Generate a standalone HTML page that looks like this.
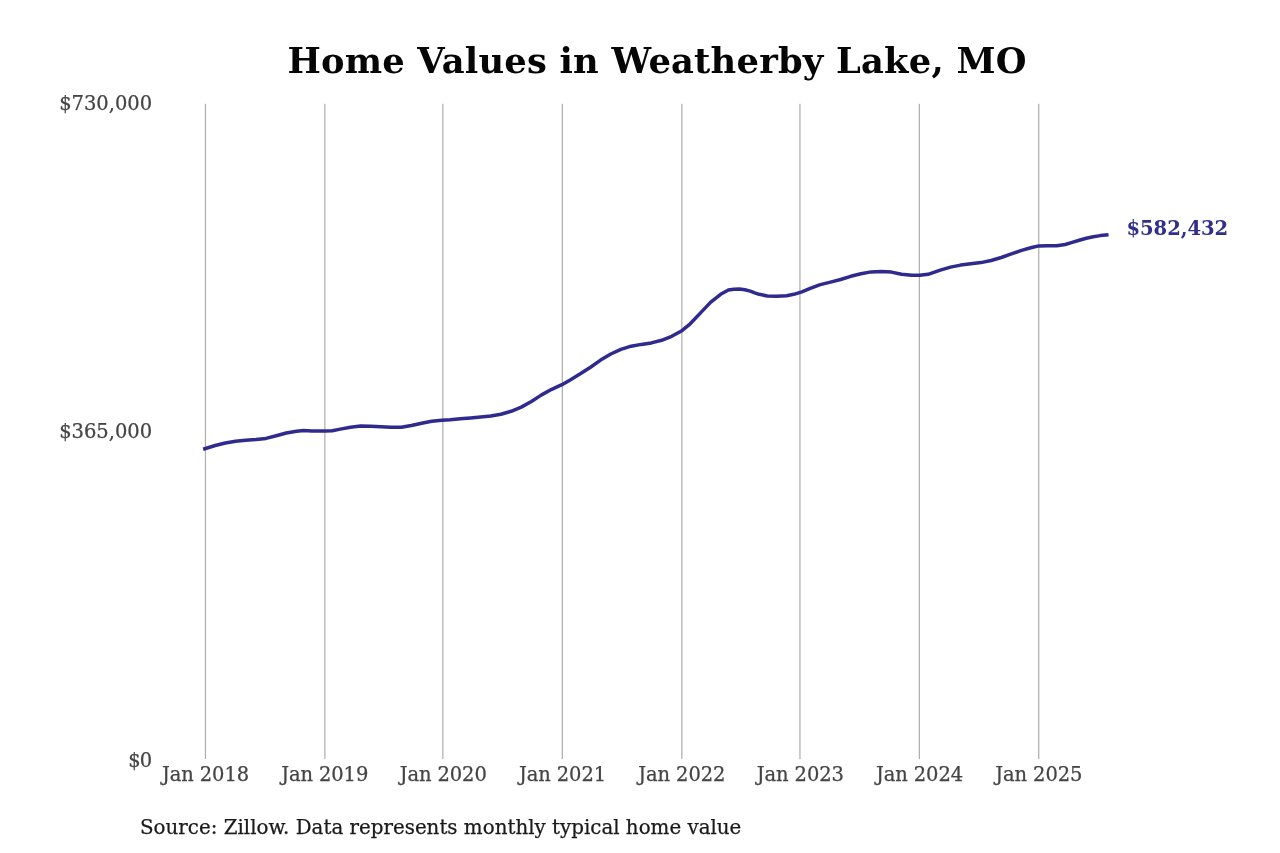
<!DOCTYPE html>
<html lang="en">
<head>
<meta charset="utf-8">
<title>Home Values in Weatherby Lake, MO</title>
<style>
html,body{margin:0;padding:0;background:#fff;}
body{width:1280px;height:853px;overflow:hidden;font-family:"DejaVu Serif","Liberation Serif",serif;}
svg{display:block;}
svg text{font-family:"DejaVu Serif","Liberation Serif",serif;}
.tick{font-size:19.5px;fill:#444;stroke:#444;stroke-width:0.25px;}
.title{font-size:35.3px;font-weight:bold;fill:#050505;letter-spacing:0.2px;}
.val{font-size:19.6px;font-weight:bold;fill:#322f8a;letter-spacing:-0.08px;}
.src{font-size:19.85px;fill:#1a1a1a;stroke:#1a1a1a;stroke-width:0.25px;}
</style>
</head>
<body>
<svg width="1280" height="853" viewBox="0 0 1280 853">
<rect width="1280" height="853" fill="#ffffff"/>
<text class="title" x="657" y="72.5" text-anchor="middle">Home Values in Weatherby Lake, MO</text>
<g>
<rect x="204.85" y="103.8" width="1.2" height="655.3" fill="#adadad"/>
<rect x="324.25" y="103.8" width="1.2" height="655.3" fill="#adadad"/>
<rect x="442.25" y="103.8" width="1.2" height="655.3" fill="#adadad"/>
<rect x="561.75" y="103.8" width="1.2" height="655.3" fill="#adadad"/>
<rect x="681.25" y="103.8" width="1.2" height="655.3" fill="#adadad"/>
<rect x="799.35" y="103.8" width="1.2" height="655.3" fill="#adadad"/>
<rect x="918.75" y="103.8" width="1.2" height="655.3" fill="#adadad"/>
<rect x="1038.15" y="103.8" width="1.2" height="655.3" fill="#adadad"/>
</g>
<g class="tick">
<text x="152.2" y="110.3" text-anchor="end">$730,000</text>
<text x="152.2" y="437.8" text-anchor="end">$365,000</text>
<text x="151.2" y="767.2" text-anchor="end" letter-spacing="-1">$0</text>
<text x="205.5" y="780.9" text-anchor="middle" letter-spacing="-0.1">Jan 2018</text>
<text x="324.7" y="780.9" text-anchor="middle" letter-spacing="-0.1">Jan 2019</text>
<text x="443.2" y="780.9" text-anchor="middle" letter-spacing="-0.1">Jan 2020</text>
<text x="562.5" y="780.9" text-anchor="middle" letter-spacing="-0.1">Jan 2021</text>
<text x="681.8" y="780.9" text-anchor="middle" letter-spacing="-0.1">Jan 2022</text>
<text x="800.3" y="780.9" text-anchor="middle" letter-spacing="-0.1">Jan 2023</text>
<text x="919.5" y="780.9" text-anchor="middle" letter-spacing="-0.1">Jan 2024</text>
<text x="1038.8" y="780.9" text-anchor="middle" letter-spacing="-0.1">Jan 2025</text>
</g>
<path d="M204.8 448.7 L215.2 445.5 L225.4 443.0 L235.5 441.2 L245.7 440.2 L255.9 439.5 L266.0 438.4 L276.2 435.7 L286.3 433.0 L296.5 431.3 L303.6 430.6 L311.7 430.9 L321.9 431.1 L325.1 431.0 L332.2 430.8 L340.3 429.1 L350.5 427.2 L360.6 426.1 L370.8 426.3 L380.9 426.8 L391.1 427.3 L401.3 427.2 L411.4 425.5 L421.6 423.2 L431.7 421.3 L441.9 420.2 L450.2 419.8 L460.3 418.8 L470.5 417.9 L480.6 417.0 L490.8 415.9 L500.9 414.2 L511.1 411.3 L521.3 407.1 L531.4 401.5 L541.6 394.9 L551.7 389.3 L561.9 384.7 L570.2 379.9 L580.3 373.8 L590.5 367.2 L600.6 360.1 L610.8 354.0 L620.9 349.3 L631.1 346.2 L641.3 344.4 L651.4 342.9 L661.6 340.3 L671.7 336.3 L681.9 330.7 L690.2 323.8 L700.3 313.1 L710.5 302.4 L720.6 294.3 L728.4 289.9 L733.9 289.2 L739.4 289.0 L744.8 289.7 L750.3 291.1 L754.7 292.8 L759.2 294.3 L767.3 296.0 L776.5 296.3 L786.6 295.7 L793.8 294.3 L801.9 291.8 L810.2 288.3 L820.3 284.6 L830.5 282.1 L840.6 279.5 L850.8 276.3 L860.9 273.7 L871.1 271.9 L881.3 271.4 L891.4 272.1 L901.6 274.2 L911.7 275.3 L919.8 275.3 L928.1 274.3 L940.3 270.2 L950.5 267.1 L960.6 265.1 L970.8 263.8 L980.9 262.6 L991.1 260.5 L1001.3 257.5 L1011.4 253.9 L1021.6 250.4 L1031.7 247.5 L1038.8 245.9 L1047.6 245.8 L1056.7 245.8 L1065.2 244.5 L1072.2 242.4 L1079.2 240.3 L1086.3 238.2 L1093.3 236.8 L1100.3 235.6 L1106.8 234.9" fill="none" stroke="#2e2a8e" stroke-width="3.5" stroke-linecap="square" stroke-linejoin="round"/>
<text class="val" x="1126.5" y="234.6">$582,432</text>
<text class="src" x="140" y="834.3">Source: Zillow. Data represents monthly typical home value</text>
</svg>
</body>
</html>
